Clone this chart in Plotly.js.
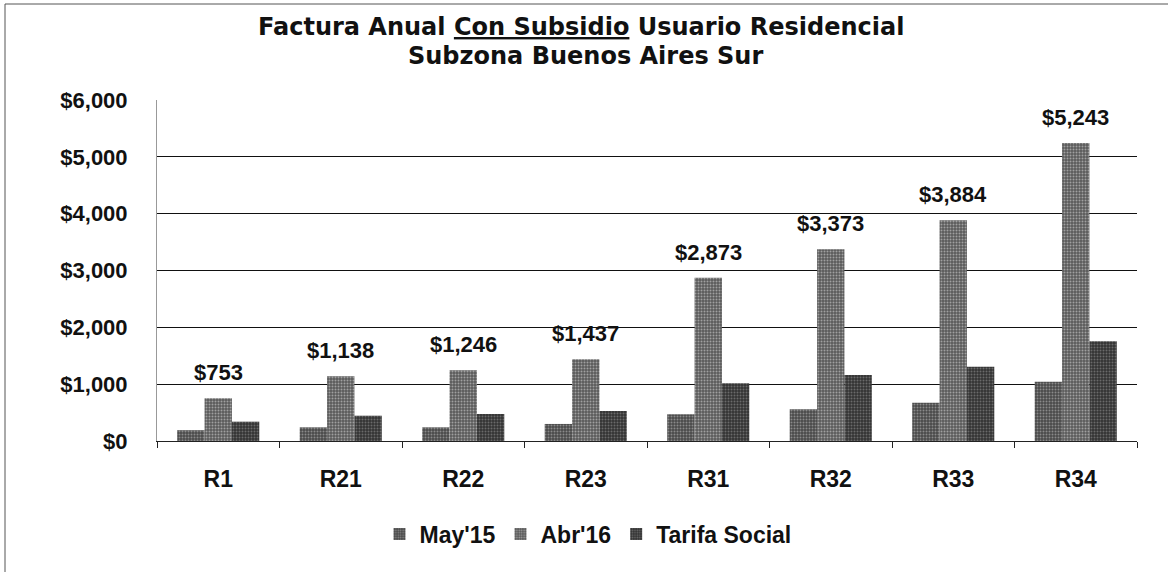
<!DOCTYPE html>
<html>
<head>
<meta charset="utf-8">
<script src="https://cdn.plot.ly/plotly-3.0.1.min.js"></script>
<style>
  html, body { margin: 0; padding: 0; background: #fff; }
  #chart { width: 1168px; height: 572px; }
</style>
</head>
<body>
<div id="chart"></div>
<script>
const categories = ['R1', 'R21', 'R22', 'R23', 'R31', 'R32', 'R33', 'R34'];
const may15 = [190, 240, 240, 300, 470, 558, 675, 1044];
const abr16 = [753, 1138, 1246, 1437, 2873, 3373, 3884, 5243];
const tarifaSocial = [340, 445, 475, 528, 1015, 1162, 1308, 1755];
const seriesNames = ["May'15", "Abr'16", "Tarifa Social"];
const yTicks = [0, 1000, 2000, 3000, 4000, 5000, 6000];
const titleLine1 = 'Factura Anual <span style="text-decoration:underline">Con Subsidio</span> Usuario Residencial';
const titleLine2 = 'Subzona Buenos Aires Sur';

const SANS = '"Liberation Sans", Arial, sans-serif';
const WIDE = '"DejaVu Sans", Verdana, sans-serif';

function fmt(v) { return '$' + v.toLocaleString('en-US'); }

function barTrace(name, y, bg, fg) {
  return {
    type: 'bar', name: name, x: categories, y: y,
    marker: {
      color: bg,
      line: { width: 0 },
      pattern: { shape: '.', bgcolor: bg, fgcolor: fg, size: 3, solidity: 0.35 }
    },
    hoverinfo: 'x+y'
  };
}

const data = [
  barTrace(seriesNames[0], may15, '#4a4a4a', '#8a8a8a'),
  barTrace(seriesNames[1], abr16, '#5a5a5a', '#a0a0a0'),
  barTrace(seriesNames[2], tarifaSocial, '#333333', '#6a6a6a')
];

// plot area pixels: l=157, r=1137, t=100, b=441
const L = 157, R = 1137, T = 100, B = 441;
const px = v => (v - L) / (R - L);
const py = v => (B - v) / (B - T);

const annotations = categories.map((c, i) => ({
  x: c, y: abr16[i], xref: 'x', yref: 'y',
  text: '<b>' + fmt(abr16[i]) + '</b>', showarrow: false,
  yanchor: 'bottom', yshift: 11,
  font: { family: SANS, size: 22, color: '#111' }
}));

annotations.push(
  { xref: 'paper', yref: 'paper', x: px(581), y: py(27), xanchor: 'center', yanchor: 'middle',
    text: '<b>' + titleLine1 + '</b>', showarrow: false,
    font: { family: WIDE, size: 24, color: '#111' } },
  { xref: 'paper', yref: 'paper', x: px(585), y: py(56), xanchor: 'center', yanchor: 'middle',
    text: '<b>' + titleLine2 + '</b>', showarrow: false,
    font: { family: WIDE, size: 24, color: '#111' } }
);

const layout = {
  width: 1168, height: 572,
  paper_bgcolor: '#fff', plot_bgcolor: '#fff',
  margin: { l: L, r: 1168 - R, t: T, b: 572 - B, pad: 0 },
  font: { family: SANS, color: '#111' },
  barmode: 'group',
  bargap: 0.33,
  bargroupgap: 0,
  showlegend: true,
  legend: {
    orientation: 'h', x: px(588), xanchor: 'center',
    y: py(534), yanchor: 'middle',
    font: { family: SANS, size: 23, color: '#111', weight: 'bold' },
    itemwidth: 30, traceorder: 'normal'
  },
  xaxis: {
    type: 'category',
    showgrid: false,
    showline: true, linecolor: '#222', linewidth: 1,
    ticks: 'outside', tickson: 'boundaries', ticklen: 6, tickcolor: '#222',
    tickfont: { family: SANS, size: 23, color: '#111', weight: 'bold' },
    ticklabelstandoff: 17
  },
  yaxis: {
    range: [0, 6000],
    tickvals: yTicks,
    ticktext: yTicks.map(fmt),
    showgrid: true, gridcolor: '#111', gridwidth: 1,
    zeroline: true, zerolinecolor: '#111', zerolinewidth: 1,
    showline: true, linecolor: '#999', linewidth: 1,
    ticks: '',
    tickfont: { family: SANS, size: 22, color: '#111', weight: 'bold' },
    ticklabelstandoff: 24
  },
  annotations: annotations,
  shapes: [
    { type: 'line', xref: 'paper', yref: 'paper', x0: px(5), x1: px(5), y0: py(4), y1: py(580), line: { color: '#555', width: 1 } },
    { type: 'line', xref: 'paper', yref: 'paper', x0: px(5), x1: px(1180), y0: py(4), y1: py(4), line: { color: '#555', width: 1 } }
  ]
};

Plotly.newPlot('chart', data, layout, { displayModeBar: false, staticPlot: true });
</script>
</body>
</html>
